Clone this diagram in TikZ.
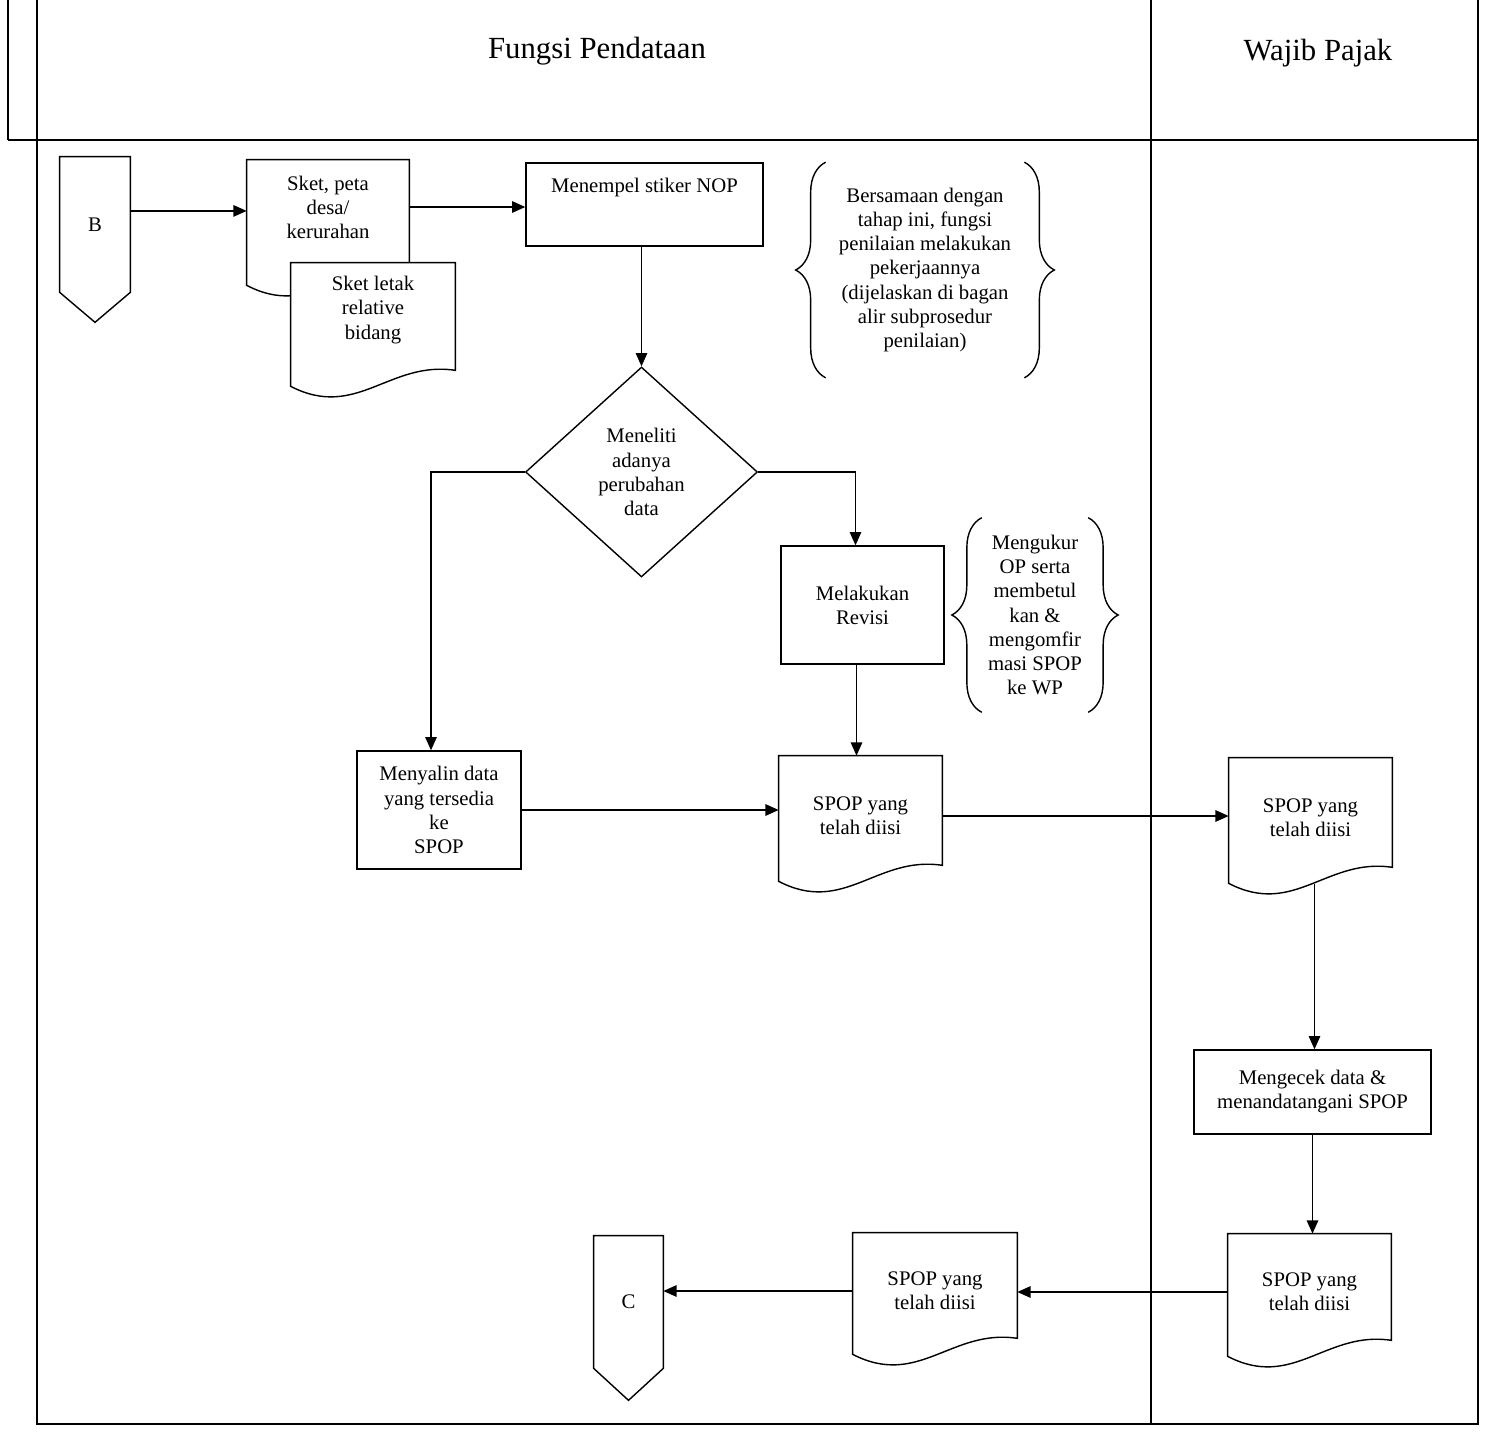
\documentclass[tikz,border=0pt]{standalone}
\usepackage{fontspec}
\setmainfont{Liberation Serif}
\usetikzlibrary{shapes.geometric, arrows.meta, calc, backgrounds, decorations.pathreplacing}

\begin{document}
\begin{tikzpicture}[
    x=0.02cm, y=-0.02cm,
    font=\fontsize{11.8}{13.7}\selectfont,
    box/.style={rectangle, draw, thick},
    doc/.style={rectangle, align=center, minimum width=3.26cm},
    offpage/.style={rectangle, minimum width=1.4cm, minimum height=2.7cm},
    decision/.style={diamond, draw, thick, align=center, minimum width=4.64cm, minimum height=4.2cm, inner sep=0pt},
    note/.style={rectangle, align=center},
    brace/.style={decorate, decoration={brace, amplitude=0.6cm}, thick},
    arrow/.style={-{Triangle[length=7.5pt, width=6.5pt]}, thick},
    lane/.style={line width=0.6pt},
    header/.style={font=\fontsize{17.5}{21}\selectfont}
  ]
  \useasboundingbox (0,0) rectangle (1489,1433);

  % swimlanes
  \draw[lane] (8,0) -- (8,140);
  \draw[lane] (37,0) -- (37,1424) -- (1478,1424) -- (1478,0);
  \draw[lane] (1151,0) -- (1151,1424);
  \draw[lane] (8,140) -- (1478,140);
  \node[header] (lanePendataan) at (597,51) {Fungsi Pendataan};
  \node[header] (laneWP) at (1318,53) {Wajib Pajak};

  % Fungsi Pendataan
  \node[offpage] (B) at (95,224.5) {B};
  \node[doc, minimum width=3.24cm, minimum height=1.88cm] (sket) at (328,207) {Sket, peta\\desa/\\kerurahan};
  \node[doc, minimum width=3.28cm, minimum height=1.88cm] (letak) at (373,310) {Sket letak\\relative\\bidang};
  \node[box, minimum width=4.74cm, minimum height=1.66cm, text depth=0.75cm] (nop) at (644.5,204.5) {Menempel stiker NOP};
  \node[decision] (check) at (641.5,472) {Meneliti\\adanya\\perubahan\\data};
  \node[note, minimum width=3.96cm, minimum height=4.3cm] (noteA) at (925,270) {Bersamaan dengan\\tahap ini, fungsi\\penilaian melakukan\\pekerjaannya\\(dijelaskan di bagan\\alir subprosedur\\penilaian)};
  \node[box, align=center, minimum width=3.26cm, minimum height=2.36cm] (revisi) at (862.5,605) {Melakukan\\Revisi};
  \node[note, minimum width=2.08cm, minimum height=3.88cm] (noteB) at (1035,615) {Mengukur\\OP serta\\membetul\\kan \&\\mengomfir\\masi SPOP\\ke WP};
  \node[box, align=center, minimum width=3.28cm, minimum height=2.36cm] (salin) at (439,810) {Menyalin data\\yang tersedia\\ke\\SPOP};
  \node[doc, minimum height=2.4cm] (spopB) at (860.5,816) {SPOP yang\\telah diisi};
  \node[doc, minimum width=3.28cm, minimum height=2.32cm] (spopE) at (935,1291) {SPOP yang\\telah diisi};
  \node[offpage, minimum width=1.38cm, minimum height=2.64cm] (C) at (628.5,1302) {C};

  % Wajib Pajak
  \node[doc, minimum height=2.4cm] (spopC) at (1310.5,818) {SPOP yang\\telah diisi};
  \node[box, align=center, minimum width=4.74cm, minimum height=1.68cm] (cek) at (1312.5,1092) {Mengecek data \&\\menandatangani SPOP};
  \node[doc, minimum height=2.32cm] (spopD) at (1309.5,1292) {SPOP yang\\telah diisi};

  % document outlines
  \begin{scope}[on background layer]
    \foreach \d/\dd in {sket/40, letak/38, spopB/14, spopC/14, spopD/15, spopE/14}
      \draw[thick, fill=white] (\d.north west) -- (\d.north east) -- ($(\d.south east)+(0,\dd-25)$)
        .. controls ($(\d.south east)!0.4!(\d.south west)+(0,\dd-35)$)
        and ($(\d.south east)!0.6!(\d.south west)+(0,\dd+25)$) .. ($(\d.south west)+(0,\dd-9)$) -- cycle;
  \end{scope}

  % off-page connectors
  \foreach \o/\tip in {B/30, C/32}
    \draw[thick] (\o.north west) -- (\o.north east) -- (\o.south east) -- ($(\o.south)+(0,\tip)$) -- (\o.south west) -- cycle;

  % annotations
  \foreach \n in {noteA, noteB} {
    \draw[brace] (\n.south west) -- (\n.north west);
    \draw[brace] (\n.north east) -- (\n.south east);
  }

  % flow
  \coordinate (Bout) at ($(B.north east)!0.4!(B.south east)$);
  \draw[arrow] (Bout) -- (Bout -| sket.west);
  \draw[arrow] (sket.east) -- (sket.east -| nop.west);
  \draw[arrow] (check.north |- nop.south) -- (check.north);
  \draw[arrow] (check.west) -| ([xshift=-0.16cm]salin.north);
  \draw[arrow] (check.east) -| ([xshift=-0.14cm]revisi.north);
  \draw[arrow] ([xshift=-0.12cm]revisi.south) -- ([xshift=-0.12cm]revisi.south |- spopB.north);
  \draw[arrow] (salin.east) -- (salin.east -| spopB.west);
  \draw[arrow] (spopB.east) -- (spopB.east -| spopC.west);
  \draw[arrow] ($(spopC.south)+(4,6)$) -- ($(spopC.south |- cek.north)+(4,0)$);
  \draw[arrow] (cek.south) -- (cek.south |- spopD.north);
  \draw[arrow] (spopD.west) -- (spopD.west -| spopE.east);
  \draw[arrow] (spopE.west) -- (spopE.west -| C.east);
\end{tikzpicture}
\end{document}
